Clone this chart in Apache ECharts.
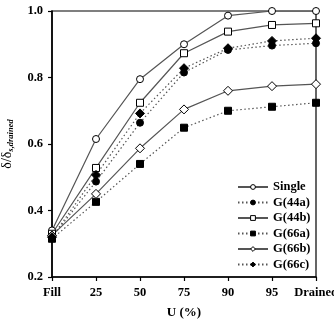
<!DOCTYPE html>
<html><head><meta charset="utf-8">
<script src="https://cdn.jsdelivr.net/npm/echarts@6/dist/echarts.min.js"></script>
<style>html,body{margin:0;padding:0;background:#fff}#c{width:334px;height:320px}</style>
</head><body><div id="c"></div>
<script>
var categories = ['Fill','25','50','75','90','95','Drained'];
var single = [0.34, 0.615, 0.795, 0.90, 0.986, 1.0, 1.0];
var g44a   = [0.32, 0.487, 0.664, 0.815, 0.883, 0.896, 0.903];
var g44b   = [0.33, 0.528, 0.724, 0.873, 0.938, 0.958, 0.963];
var g66a   = [0.315, 0.426, 0.54, 0.649, 0.70, 0.712, 0.724];
var g66b   = [0.325, 0.45, 0.587, 0.704, 0.76, 0.774, 0.78];
var g66c   = [0.32, 0.507, 0.692, 0.828, 0.888, 0.91, 0.918];
var yTicks = [0.2, 0.4, 0.6, 0.8, 1.0];

var font = '"Liberation Serif", "DejaVu Serif", serif';
function mk(name, data, symbol, size, dotted, filled) {
  return {
    name: name, type: 'line', data: data, symbol: symbol, symbolSize: size,
    showSymbol: true,
    lineStyle: { color: '#555', width: 1.2, type: dotted ? [1.5, 2.5] : 'solid' },
    itemStyle: { color: filled ? '#000' : '#fff', borderColor: '#000', borderWidth: 1 },
    z: 3
  };
}
var chart = echarts.init(document.getElementById('c'), null, { renderer: 'canvas' });
chart.setOption({
  animation: false,
  backgroundColor: '#fff',
  grid: { left: 52, right: 18, top: 11, bottom: 43, show: true, borderColor: '#000', borderWidth: 1.2, backgroundColor: 'transparent', containLabel: false, outerBoundsMode: 'none' },
  legend: {
    orient: 'vertical', left: 237, top: 180, itemWidth: 30, itemHeight: 6, itemGap: 1.5, padding: 0,
    itemStyle: { borderWidth: 1 },
    textStyle: { fontFamily: font, fontWeight: 'bold', fontSize: 12.5, color: '#000', lineHeight: 14 },
    data: ['Single','G(44a)','G(44b)','G(66a)','G(66b)','G(66c)']
  },
  xAxis: {
    type: 'category', data: categories, boundaryGap: false,
    axisLine: { lineStyle: { color: '#000', width: 1.6 } },
    axisTick: { show: true, inside: false, length: 4, alignWithLabel: true, lineStyle: { color: '#000', width: 1.2 } },
    axisLabel: { margin: 9, fontFamily: font, fontWeight: 'bold', fontSize: 12.5, color: '#000', interval: 0 },
    name: 'U (%)', nameLocation: 'middle', nameGap: 29,
    nameTextStyle: { fontFamily: font, fontWeight: 'bold', fontSize: 13, color: '#000' }
  },
  yAxis: {
    type: 'value', min: yTicks[0], max: yTicks[yTicks.length-1], interval: 0.2,
    axisLine: { show: true, lineStyle: { color: '#000', width: 1.6 } },
    axisTick: { show: true, inside: false, length: 4, lineStyle: { color: '#000', width: 1.2 } },
    splitLine: { show: false },
    axisLabel: { margin: 9, fontFamily: font, fontWeight: 'bold', fontSize: 12.5, color: '#000', formatter: function (v) { return v.toFixed(1); } },
    name: '{a|δ/δ}{b|s,drained}', nameLocation: 'middle', nameGap: 37, nameRotate: 90,
    nameTextStyle: { rich: {
      a: { fontFamily: font, fontSize: 14, color: '#000' },
      b: { fontFamily: font, fontSize: 8.5, fontStyle: 'italic', fontWeight: 'bold', color: '#000', verticalAlign: 'bottom', padding: [6,0,0,0] }
    } }
  },
  series: [
    mk('Single', single, 'circle', 7, false, false),
    mk('G(44a)', g44a, 'circle', 7, true, true),
    mk('G(44b)', g44b, 'rect', 7, false, false),
    mk('G(66a)', g66a, 'rect', 7, true, true),
    mk('G(66b)', g66b, 'diamond', 9, false, false),
    mk('G(66c)', g66c, 'diamond', 9, true, true)
  ]
});
</script></body></html>
